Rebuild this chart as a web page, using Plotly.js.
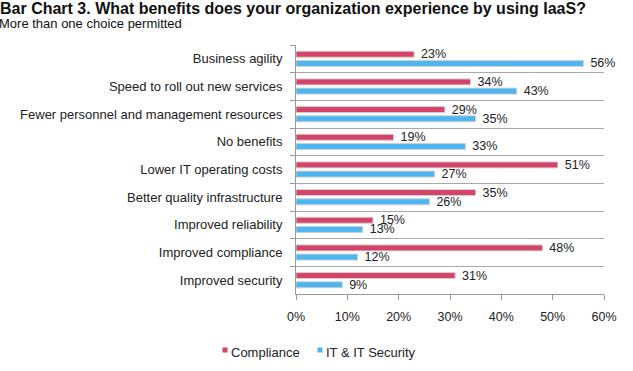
<!DOCTYPE html>
<html>
<head>
<meta charset="utf-8">
<script src="https://cdn.plot.ly/plotly-3.0.1.min.js"></script>
<style>html,body{margin:0;padding:0;background:#fff;}#chart{width:633px;height:371px;}</style>
</head>
<body>
<div id="chart"></div>
<script>
const categories = [
  "Business agility",
  "Speed to roll out new services",
  "Fewer personnel and management resources",
  "No benefits",
  "Lower IT operating costs",
  "Better quality infrastructure",
  "Improved reliability",
  "Improved compliance",
  "Improved security"
];
const compliance = [23, 34, 29, 19, 51, 35, 15, 48, 31];
const itSecurity = [56, 43, 35, 33, 27, 26, 13, 12, 9];
const seriesNames = ["Compliance", "IT & IT Security"];
const xTickVals = [0, 10, 20, 30, 40, 50, 60];
const xTickText = ["0%", "10%", "20%", "30%", "40%", "50%", "60%"];

const pink = "#D64369";
const blue = "#4DB6F0";
const font = "Liberation Sans, Arial, sans-serif";

const M = {l: 296, r: 29, t: 45, b: 77};
const W = 633, H = 371;
const PW = W - M.l - M.r, PH = H - M.t - M.b;
const px2x = p => (p - M.l) / PW;
const py2y = p => (H - M.b - p) / PH;

function barTrace(vals, name, color) {
  return {
    type: "bar", orientation: "h", name: name,
    y: categories, x: vals,
    text: vals.map(v => "  " + v + "%"),
    textposition: "outside", cliponaxis: false, constraintext: "none",
    textfont: {family: font, size: 12.5, color: "#222"},
    marker: {color: color, line: {color: "#d0d0d0", width: 1}},
    showlegend: false, hoverinfo: "x+y"
  };
}

const data = [
  barTrace(compliance, seriesNames[0], pink),
  barTrace(itSecurity, seriesNames[1], blue)
];

// manual legend (small square markers close to text)
const legendItems = [
  {name: seriesNames[0], color: pink, sq: 225, tx: 232},
  {name: seriesNames[1], color: blue, sq: 320, tx: 327}
];
const shapes = legendItems.map(it => ({
  type: "rect", xref: "paper", yref: "paper",
  x0: px2x(it.sq - 2.5), x1: px2x(it.sq + 2.5),
  y0: py2y(352.5), y1: py2y(347.5),
  fillcolor: it.color, line: {width: 0}
}));
const legendAnn = legendItems.map(it => ({
  text: it.name, xref: "paper", yref: "paper",
  x: px2x(it.tx - 3), y: py2y(352),
  xanchor: "left", yanchor: "middle", showarrow: false,
  font: {family: font, size: 13, color: "#222"}
}));

const layout = {
  width: W, height: H,
  margin: M,
  paper_bgcolor: "#fff", plot_bgcolor: "#fff",
  font: {family: font, size: 13, color: "#222"},
  barmode: "group", bargap: 0.334, bargroupgap: 0.35,
  title: {
    text: "<b>Bar Chart 3. What benefits does your organization experience by using IaaS?</b>",
    font: {family: font, size: 16, color: "#111"},
    x: 0, xref: "container", xanchor: "left",
    y: 1 - 3/371, yref: "container", yanchor: "top",
    pad: {l: 0, t: 0}
  },
  annotations: [{
    text: "More than one choice permitted",
    xref: "paper", yref: "paper",
    x: px2x(-3), y: py2y(23),
    xanchor: "left", yanchor: "middle", showarrow: false,
    font: {family: font, size: 13, color: "#111"}
  }].concat(legendAnn),
  shapes: shapes,
  xaxis: {
    range: [0, 60], tickvals: xTickVals, ticktext: xTickText,
    showgrid: false, zeroline: false,
    showline: true, linecolor: "#999", linewidth: 1,
    ticks: "outside", ticklen: 5, tickcolor: "#999",
    ticklabelstandoff: 6,
    tickfont: {family: font, size: 12.5, color: "#222"},
    fixedrange: true
  },
  yaxis: {
    type: "category", autorange: "reversed",
    tickson: "boundaries",
    showgrid: true, gridcolor: "#a8a8a8", gridwidth: 1,
    showline: true, linecolor: "#999", linewidth: 1,
    ticks: "outside", ticklen: 5, tickcolor: "#999",
    ticklabelstandoff: 10,
    tickfont: {family: font, size: 13, color: "#222"},
    fixedrange: true
  },
  showlegend: false
};

Plotly.newPlot("chart", data, layout, {displayModeBar: false, staticPlot: true});
</script>
</body>
</html>
